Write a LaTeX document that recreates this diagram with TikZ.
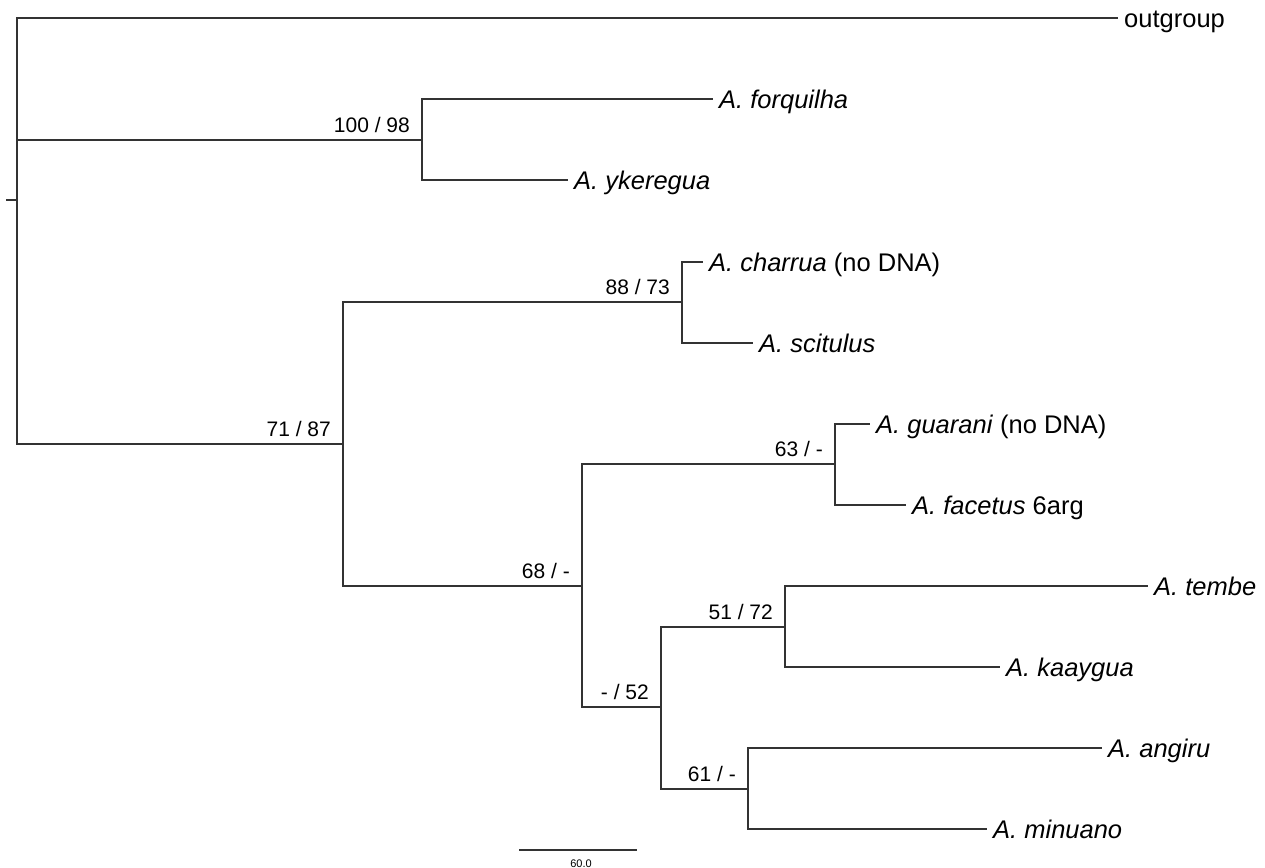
\documentclass[tikz,border=0pt]{standalone}
\usepackage{fontspec}
\setmainfont{Liberation Sans}
\begin{document}
\begin{tikzpicture}[x=1pt,y=-1pt,
  br/.style={line width=1.2pt, draw=black!80},
  tip/.style={anchor=west, inner xsep=6pt, inner ysep=0pt, text height=18.3pt, text depth=0pt, font=\fontsize{25.5}{30}\selectfont},
  sup/.style={anchor=base east, inner sep=0pt, font=\fontsize{21}{25}\selectfont, xshift=-12pt, yshift=7.5pt},
  scl/.style={anchor=base, inner sep=0pt, font=\fontsize{11}{12}\selectfont}]
\useasboundingbox (0,0) rectangle (1265,867);
% internal nodes
\coordinate (stub) at (6,200);
\coordinate (root) at (17,200);
\coordinate (n100) at (422,140);
\coordinate (n71) at (343,444);
\coordinate (n88) at (682,302);
\coordinate (n68) at (582,586);
\coordinate (n63) at (835,464);
\coordinate (n52) at (661,707);
\coordinate (n51) at (785,627);
\coordinate (n61) at (748,789);
% tips
\node[tip] (out) at (1118,18) {outgroup};
\node[tip] (forq) at (713,99) {\textit{A. forquilha}};
\node[tip] (yke) at (568,180) {\textit{A. ykeregua}};
\node[tip] (cha) at (703,262) {\textit{A. charrua} (no DNA)};
\node[tip] (sci) at (753,343) {\textit{A. scitulus}};
\node[tip] (gua) at (870,424) {\textit{A. guarani} (no DNA)};
\node[tip] (fac) at (906,505) {\textit{A. facetus} 6arg};
\node[tip] (tem) at (1148,586) {\textit{A. tembe}};
\node[tip] (kaa) at (1000,667) {\textit{A. kaaygua}};
\node[tip] (ang) at (1102,748) {\textit{A. angiru}};
\node[tip] (min) at (987,829) {\textit{A. minuano}};
% branches
\draw[br] (stub) -- (root);
\draw[br] (root) |- (out.west);
\draw[br] (root) |- (n100);
\draw[br] (root) |- (n71);
\draw[br] (n100) |- (forq.west);
\draw[br] (n100) |- (yke.west);
\draw[br] (n71) |- (n88);
\draw[br] (n71) |- (n68);
\draw[br] (n88) |- (cha.west);
\draw[br] (n88) |- (sci.west);
\draw[br] (n68) |- (n63);
\draw[br] (n68) |- (n52);
\draw[br] (n63) |- (gua.west);
\draw[br] (n63) |- (fac.west);
\draw[br] (n52) |- (n51);
\draw[br] (n52) |- (n61);
\draw[br] (n51) |- (tem.west);
\draw[br] (n51) |- (kaa.west);
\draw[br] (n61) |- (ang.west);
\draw[br] (n61) |- (min.west);
% support values
\node[sup] (l100) at (n100) {100 / 98};
\node[sup] (l71) at (n71) {71 / 87};
\node[sup] (l88) at (n88) {88 / 73};
\node[sup] (l68) at (n68) {68 / -};
\node[sup] (l63) at (n63) {63 / -};
\node[sup] (l52) at (n52) {- / 52};
\node[sup] (l51) at (n51) {51 / 72};
\node[sup] (l61) at (n61) {61 / -};
% scale bar
\coordinate (sbl) at (519,850);
\coordinate (sbr) at (637,850);
\draw[br] (sbl) -- (sbr);
\node[scl] (sbt) at (581,867) {60.0};
\end{tikzpicture}
\end{document}
